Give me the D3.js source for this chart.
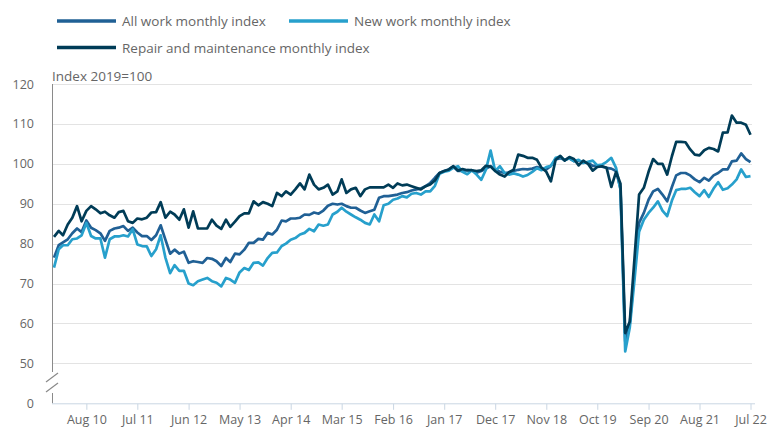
<!DOCTYPE html>
<meta charset="utf-8">
<body style="margin:0;background:#fff">
<style>
  text { font-family: "Open Sans", sans-serif; fill: #666; }
  .grid line { stroke: #e3e3e3; }
  .series { fill: none; stroke-width: 2.7px; stroke-linejoin: round; }
</style>
<div id="chart"></div>
<script src="https://cdn.jsdelivr.net/npm/d3@7"></script>
<script>
// monthly index, Jan 2010 to Jul 2022 (2019=100)
var startMonth = "Jan 10";

var allWork = [
  76.5, 79.6, 80.3, 81.1, 82.6, 83.8, 82.9, 85.8, 84.0, 83.4,
  82.6, 80.7, 83.2, 83.8, 84.0, 84.4, 83.2, 84.0, 82.8, 81.9,
  81.9, 80.9, 82.1, 84.6, 81.0, 77.5, 78.5, 77.5, 78.0, 75.2,
  75.6, 75.4, 75.2, 76.4, 76.2, 75.6, 74.4, 76.4, 75.4, 77.5,
  77.3, 78.5, 80.2, 80.2, 81.2, 81.0, 82.7, 82.3, 83.5, 85.8,
  85.6, 86.3, 86.3, 86.5, 87.3, 87.2, 87.8, 87.5, 88.3, 89.5,
  90.0, 89.8, 90.0, 89.4, 89.0, 89.0, 88.3, 87.7, 88.1, 88.5,
  91.5, 91.9, 91.9, 92.1, 92.3, 92.7, 92.9, 93.3, 93.6, 93.8,
  94.4, 95.2, 96.5, 97.7, 98.2, 98.6, 99.4, 98.2, 98.2, 98.4,
  98.3, 97.8, 98.2, 98.8, 99.4, 98.6, 98.0, 97.7, 97.8, 98.2,
  98.5, 98.7, 98.6, 98.8, 99.2, 98.8, 98.6, 99.5, 101.1, 101.4,
  101.0, 101.4, 100.7, 100.8, 100.3, 100.3, 99.5, 99.5, 99.3, 99.0,
  98.8, 98.2, 93.8, 55.5, 60.0, 73.0, 85.2, 87.7, 91.0, 93.1,
  93.7, 92.3, 90.6, 94.2, 97.1, 97.7, 97.7, 97.1, 96.1, 95.4,
  96.5, 95.8, 97.1, 97.7, 98.6, 98.6, 100.6, 100.8, 102.6, 101.2, 100.4
];

var newWork = [
  74.0, 78.6, 79.6, 79.6, 81.1, 81.3, 82.1, 85.2, 81.9, 81.3,
  81.3, 76.5, 81.1, 81.8, 81.8, 82.1, 81.8, 83.6, 79.8, 79.4,
  79.3, 76.9, 78.6, 82.1, 76.5, 72.6, 74.6, 73.2, 73.2, 70.0,
  69.6, 70.6, 71.0, 71.4, 70.6, 70.2, 69.3, 71.4, 71.0, 70.2,
  72.8, 73.9, 73.4, 75.2, 75.3, 74.5, 76.4, 77.7, 77.8, 79.4,
  80.0, 81.0, 81.4, 82.3, 82.7, 83.7, 83.1, 84.8, 84.5, 84.8,
  87.3, 88.0, 89.0, 88.0, 87.3, 86.6, 86.0, 85.2, 84.8, 87.3,
  85.6, 89.6, 90.0, 91.0, 91.3, 91.9, 91.6, 92.5, 92.7, 92.3,
  93.1, 93.1, 94.5, 97.5, 98.0, 98.3, 99.0, 99.4, 98.0, 97.4,
  98.4, 97.3, 96.0, 98.5, 103.3, 98.2, 99.4, 97.7, 97.3, 97.6,
  97.3, 96.8, 97.2, 98.0, 98.9, 98.4, 99.2, 99.5, 101.5, 101.8,
  100.9, 101.4, 100.7, 101.0, 100.2, 100.5, 100.8, 99.6, 99.8, 100.5,
  101.5, 99.0, 93.5, 53.0, 59.0, 71.0, 83.0, 86.0, 87.7, 89.0,
  90.6, 88.3, 86.9, 90.8, 93.4, 93.7, 93.7, 94.0, 92.9, 91.9,
  93.4, 91.7, 93.8, 95.4, 93.5, 93.9, 94.8, 96.1, 98.6, 96.7, 96.9
];

var repair = [
  81.7, 83.2, 82.1, 84.8, 86.5, 89.4, 85.6, 88.2, 89.4, 88.6,
  87.6, 88.0, 87.1, 86.5, 87.9, 88.2, 85.6, 85.2, 86.3, 86.1,
  86.5, 87.8, 87.9, 90.4, 86.5, 88.0, 87.3, 86.0, 88.6, 84.0,
  88.1, 83.8, 83.8, 83.8, 86.0, 84.5, 83.7, 86.0, 84.2, 85.5,
  86.9, 87.6, 87.6, 90.6, 89.6, 90.4, 90.0, 89.4, 92.7, 91.9,
  93.1, 92.3, 93.6, 95.1, 93.6, 97.3, 94.8, 93.6, 94.0, 94.8,
  92.3, 93.1, 96.1, 92.7, 93.6, 94.0, 91.9, 93.6, 94.1, 94.1,
  94.1, 94.1, 94.8, 94.0, 95.1, 94.6, 94.8, 94.4, 94.0, 93.6,
  94.4, 94.8, 95.8, 97.7, 98.2, 98.6, 99.4, 98.3, 98.7, 98.4,
  98.4, 98.2, 98.4, 99.5, 99.3, 98.2, 97.3, 96.8, 97.9, 98.5,
  102.3, 102.0, 101.5, 101.5, 101.0, 99.0, 98.0, 95.6, 101.0, 102.0,
  100.8, 101.7, 101.2, 99.6, 100.8, 100.0, 98.3, 99.2, 99.4, 99.0,
  94.2, 98.0, 95.0, 57.6, 60.5, 76.4, 92.3, 94.0, 98.0, 101.2,
  100.0, 100.0, 97.3, 101.9, 105.5, 105.5, 105.4, 103.6, 102.3, 102.1,
  103.4, 104.0, 103.7, 103.1, 107.8, 107.9, 112.1, 110.3, 110.3, 109.8, 107.3
];

var seriesNames = ["All work monthly index", "New work monthly index", "Repair and maintenance monthly index"];
var seriesColors = ["#206095", "#27a0cc", "#003c57"];
var tickLabels = ["Aug 10", "Jul 11", "Jun 12", "May 13", "Apr 14", "Mar 15", "Feb 16",
  "Jan 17", "Dec 17", "Nov 18", "Oct 19", "Sep 20", "Aug 21", "Jul 22"];
var yTicks = [40, 50, 60, 70, 80, 90, 100, 110, 120];
var yTickText = ["0", "50", "60", "70", "80", "90", "100", "110", "120"];

var width = 771, height = 428;
var parseMonth = d3.timeParse("%b %y");
var first = parseMonth(startMonth);
var months = allWork.map(function(d, i) { return d3.timeMonth.offset(first, i); });

var x = d3.scaleTime()
  .domain([months[0], months[months.length - 1]])
  .range([54, 750.5]);

// axis is broken between 0 and 50, so 0 sits where 40 would be
var y = d3.scaleLinear()
  .domain([40, 120])
  .range([403.3, 84]);

var svg = d3.select("#chart").append("svg")
  .attr("width", width)
  .attr("height", height);

// gridlines
svg.append("g")
  .attr("class", "grid")
  .selectAll("line")
  .data(yTicks.slice(1))
  .enter().append("line")
  .attr("x1", 52).attr("x2", 752)
  .attr("y1", function(d) { return Math.round(y(d)) + 0.5; })
  .attr("y2", function(d) { return Math.round(y(d)) + 0.5; });

// y axis labels
var yAxis = svg.append("g")
  .attr("transform", "translate(52,0)")
  .call(d3.axisLeft(y).tickValues(yTicks).tickSize(0).tickPadding(18)
    .tickFormat(function(d, i) { return yTickText[i]; }));
yAxis.select(".domain").remove();
yAxis.selectAll("text").style("font-size", "12.5px").attr("fill", "#707070");

// y axis line with break
svg.append("line")
  .attr("x1", 52.5).attr("x2", 52.5)
  .attr("y1", y(120)).attr("y2", 372)
  .attr("stroke", "#8a8a8a");
svg.append("line")
  .attr("x1", 52.5).attr("x2", 52.5)
  .attr("y1", 393).attr("y2", y(40))
  .attr("stroke", "#8a8a8a");
svg.selectAll(".brk")
  .data([0, 10])
  .enter().append("line")
  .attr("class", "brk")
  .attr("x1", 46).attr("x2", 58)
  .attr("y1", function(d) { return 382 + d; })
  .attr("y2", function(d) { return 373 + d; })
  .attr("stroke", "#8a8a8a")
  .attr("stroke-width", 1.2);

// x axis
var xAxis = svg.append("g")
  .attr("transform", "translate(0," + (y(40) + 0.5) + ")")
  .call(d3.axisBottom(x)
    .tickValues(tickLabels.map(function(t) { return parseMonth(t); }))
    .tickSize(6).tickPadding(5)
    .tickFormat(d3.timeFormat("%b %y")));
xAxis.select(".domain")
  .attr("d", "M52,0H755")
  .attr("stroke", "#c9d6e3");
xAxis.selectAll(".tick line").attr("stroke", "#c9d6e3");
xAxis.selectAll("text").style("font-size", "12.5px").attr("fill", "#707070");

// axis title
svg.append("text")
  .attr("x", 52)
  .attr("y", 81)
  .style("font-size", "13.5px")
  .text("Index 2019=100");

// lines
var line = d3.line()
  .x(function(d, i) { return x(months[i]); })
  .y(function(d) { return y(d); });

svg.selectAll(".series")
  .data([allWork, newWork, repair])
  .enter().append("path")
  .attr("class", "series")
  .attr("stroke", function(d, i) { return seriesColors[i]; })
  .attr("d", line);

// legend
var legendPos = [[57, 21], [289, 21], [57, 47.5]];
var legend = svg.selectAll(".legend")
  .data(seriesNames)
  .enter().append("g")
  .attr("class", "legend")
  .attr("transform", function(d, i) { return "translate(" + legendPos[i][0] + "," + legendPos[i][1] + ")"; });

legend.append("line")
  .attr("x1", 0).attr("x2", 59)
  .attr("stroke", function(d, i) { return seriesColors[i]; })
  .attr("stroke-width", 3.5);

legend.append("text")
  .attr("x", 65)
  .attr("y", 5)
  .style("font-size", "13.5px")
  .text(function(d) { return d; });
</script>
</body>
